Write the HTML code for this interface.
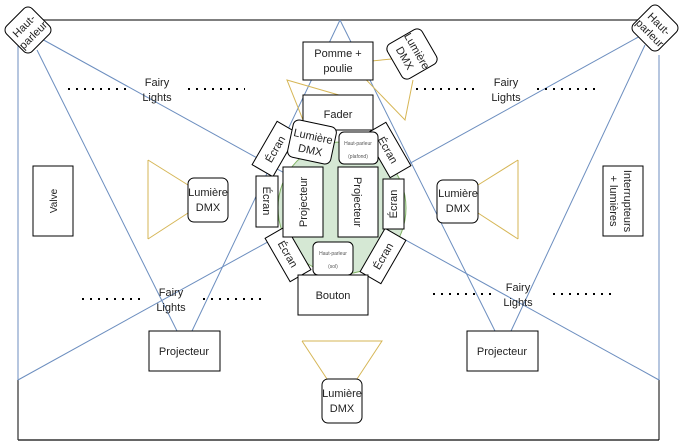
<!DOCTYPE html>
<html><head><meta charset="utf-8"><style>
body{margin:0;background:#fff}
svg{display:block;font-family:"Liberation Sans",sans-serif}
</style></head><body>
<svg width="689" height="442" viewBox="0 0 689 442" xmlns="http://www.w3.org/2000/svg">
<line x1="18" y1="20" x2="659" y2="20" stroke="#555" stroke-width="1.5"/>
<line x1="18" y1="380" x2="18" y2="440" stroke="#000"/>
<line x1="18" y1="440" x2="659" y2="440" stroke="#333" stroke-width="1.5"/>
<line x1="659" y1="380" x2="659" y2="440" stroke="#000"/>
<g stroke="#6c8ebf" stroke-width="1" fill="none">
<line x1="18" y1="40" x2="18" y2="380"/>
<line x1="659" y1="55" x2="659" y2="380"/>
<line x1="40" y1="38" x2="659" y2="380"/>
<line x1="18" y1="380" x2="642" y2="35"/>
<line x1="37" y1="50" x2="177" y2="331"/>
<line x1="192" y1="331" x2="340" y2="20"/>
<line x1="340" y1="20" x2="495" y2="331"/>
<line x1="511" y1="331" x2="645" y2="45"/>
</g>
<ellipse cx="342" cy="208" rx="64" ry="66" fill="#d5e8d4" stroke="#82b366"/>
<g stroke="#d6b656" fill="none">
<polyline points="148,160 188,185"/><polyline points="148,239 188,213"/><line x1="148" y1="160" x2="148" y2="239"/>
<polyline points="518,160 478,185"/><polyline points="518,239 478,213"/><line x1="518" y1="160" x2="518" y2="239"/>
<polyline points="302,341 382,341 357,379"/><polyline points="302,341 327,379"/>
<polygon points="287,80 363,102 307,130"/>
<polyline points="350,63 413,57"/><polyline points="350,63 405,120 413,80"/>
</g>
<g stroke="#000" stroke-width="2" stroke-dasharray="2 6">
<line x1="68" y1="89" x2="127" y2="89"/><line x1="188" y1="89" x2="245" y2="89"/>
<line x1="416" y1="89" x2="477" y2="89"/><line x1="537" y1="89" x2="597" y2="89"/>
<line x1="82" y1="299" x2="142" y2="299"/><line x1="203" y1="299" x2="264" y2="299"/>
<line x1="433" y1="294" x2="492" y2="294"/><line x1="553" y1="294" x2="615" y2="294"/>
</g>
<g font-size="11" fill="#222" text-anchor="middle">
<text x="157" y="86">Fairy</text><text x="157" y="101">Lights</text>
<text x="506" y="86">Fairy</text><text x="506" y="101">Lights</text>
<text x="171" y="296">Fairy</text><text x="171" y="311">Lights</text>
<text x="518" y="291">Fairy</text><text x="518" y="306">Lights</text>
</g>
<g stroke="#000" fill="#fff" font-size="11" text-anchor="middle">
<g transform="translate(28,30) rotate(-45)"><rect x="-18" y="-18" width="36" height="36" rx="6"/><text y="-2" stroke="none" fill="#222">Haut-</text><text y="11" stroke="none" fill="#222">parleur</text></g>
<g transform="translate(655,28) rotate(45)"><rect x="-18" y="-18" width="36" height="36" rx="6"/><text y="-2" stroke="none" fill="#222">Haut-</text><text y="11" stroke="none" fill="#222">parleur</text></g>
<rect x="33" y="166" width="40" height="70"/>
<text transform="translate(57,201) rotate(-90)" stroke="none" fill="#222" font-size="10">Valve</text>
<rect x="603" y="166" width="40" height="70"/>
<text transform="translate(624,201) rotate(90)" stroke="none" fill="#222" font-size="11">Interrupteurs</text>
<text transform="translate(610,201) rotate(90)" stroke="none" fill="#222" font-size="11">+ lumières</text>
<rect x="188" y="178" width="40" height="44" rx="6"/>
<text x="208" y="196" stroke="none" fill="#222">Lumière</text><text x="208" y="211" stroke="none" fill="#222">DMX</text>
<rect x="437" y="180" width="41" height="43" rx="6"/>
<text x="458" y="197" stroke="none" fill="#222">Lumière</text><text x="458" y="212" stroke="none" fill="#222">DMX</text>
<rect x="149" y="331" width="71" height="40"/><text x="184" y="355" stroke="none" fill="#222">Projecteur</text>
<rect x="467" y="331" width="71" height="40"/><text x="502" y="355" stroke="none" fill="#222">Projecteur</text>
<rect x="322" y="379" width="40" height="44" rx="6"/>
<text x="342" y="397" stroke="none" fill="#222">Lumière</text><text x="342" y="412" stroke="none" fill="#222">DMX</text>
<rect x="303" y="42" width="70" height="38"/>
<text x="338" y="57" stroke="none" fill="#222">Pomme +</text><text x="338" y="72" stroke="none" fill="#222">poulie</text>
<g transform="translate(412,54) rotate(60)"><rect x="-20" y="-20" width="40" height="40" rx="6"/><text y="-2" stroke="none" fill="#222">Lumière</text><text y="12" stroke="none" fill="#222">DMX</text></g>
<rect x="303" y="95" width="70" height="35"/><text x="338" y="118" stroke="none" fill="#222">Fader</text>
<g transform="translate(275,149) rotate(-60)"><rect x="-25" y="-12" width="50" height="24"/><text y="4" stroke="none" fill="#222">Écran</text></g>
<g transform="translate(388,150) rotate(60)"><rect x="-25" y="-12" width="50" height="24"/><text y="4" stroke="none" fill="#222">Écran</text></g>
<g transform="translate(288,254) rotate(60)"><rect x="-25" y="-12" width="50" height="24"/><text y="4" stroke="none" fill="#222">Écran</text></g>
<g transform="translate(383,256) rotate(-60)"><rect x="-25" y="-12" width="50" height="24"/><text y="4" stroke="none" fill="#222">Écran</text></g>
<rect x="256" y="176" width="22" height="51"/><text transform="translate(263,201) rotate(90)" stroke="none" fill="#222">Écran</text>
<rect x="383" y="179" width="21" height="50"/><text transform="translate(397,204) rotate(-90)" stroke="none" fill="#222">Écran</text>
<rect x="283" y="167" width="40" height="70"/><text transform="translate(307,202) rotate(-90)" stroke="none" fill="#222">Projecteur</text>
<rect x="338" y="167" width="40" height="70"/><text transform="translate(354,202) rotate(90)" stroke="none" fill="#222">Projecteur</text>
<g transform="translate(312,142) rotate(12)"><rect x="-22" y="-19" width="44" height="38" rx="6"/><text y="-2" stroke="none" fill="#222">Lumière</text><text y="12" stroke="none" fill="#222">DMX</text></g>
<rect x="339" y="132" width="39" height="32" rx="5"/>
<text x="358" y="145" stroke="none" fill="#555" font-size="5">Haut-parleur</text><text x="358" y="158" stroke="none" fill="#555" font-size="5">(plafond)</text>
<rect x="313" y="242" width="40" height="33" rx="5"/>
<text x="333" y="255" stroke="none" fill="#555" font-size="5">Haut-parleur</text><text x="333" y="268" stroke="none" fill="#555" font-size="5">(sol)</text>
<rect x="298" y="275" width="70" height="40"/><text x="333" y="299" stroke="none" fill="#222">Bouton</text>
</g>
</svg>
</body></html>
